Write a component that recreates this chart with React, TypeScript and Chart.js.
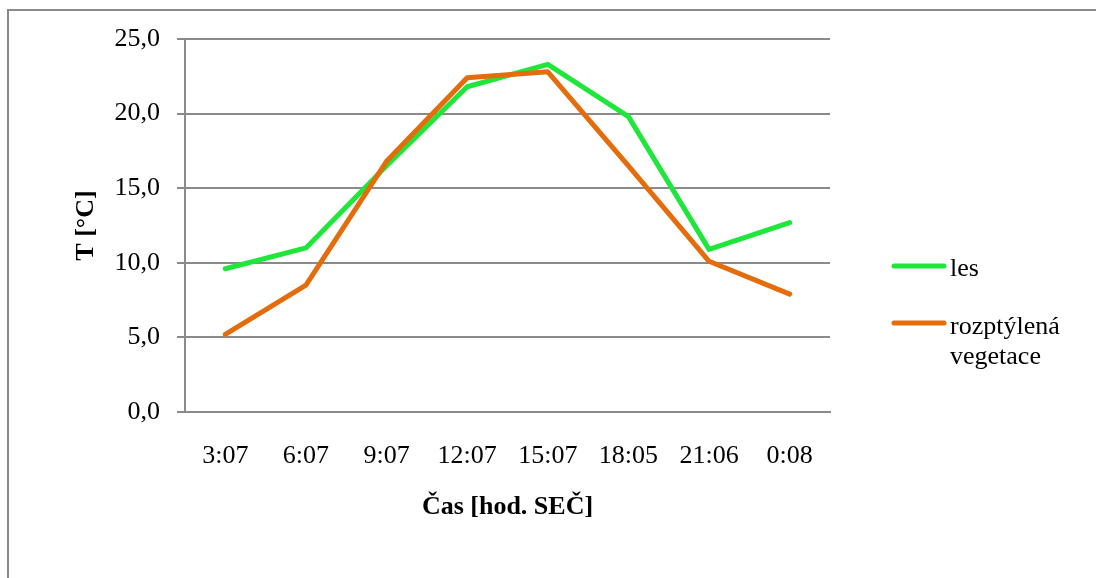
import React, { useEffect, useRef } from "react";
import { Chart, registerables } from "chart.js";

Chart.register(...registerables);

const categories = ["3:07", "6:07", "9:07", "12:07", "15:07", "18:05", "21:06", "0:08"];
const lesValues = [9.6, 11.0, 16.5, 21.8, 23.3, 19.8, 10.9, 12.7];
const vegetaceValues = [5.2, 8.5, 16.8, 22.4, 22.8, 16.5, 10.1, 7.9];
const seriesNames: (string | string[])[] = ["les", ["rozptýlená", "vegetace"]];
const seriesColors = ["#1ee63a", "#e46c0a"];
const yTitle = "T [°C]";
const xTitle = "Čas [hod. SEČ]";

const FONT = "'Liberation Serif', 'Times New Roman', serif";
const GRID = "#8a8a8a";

const legendPlugin = {
  id: "customLegend",
  afterDraw(chart: any) {
    const ctx = chart.ctx;
    const items = [
      { lineY: 255, textY: [265] },
      { lineY: 312, textY: [323, 353] },
    ];
    ctx.save();
    chart.data.datasets.forEach((ds: any, i: number) => {
      const it = items[i];
      ctx.strokeStyle = ds.borderColor;
      ctx.lineWidth = 5;
      ctx.lineCap = "round";
      ctx.beginPath();
      ctx.moveTo(885, it.lineY);
      ctx.lineTo(935, it.lineY);
      ctx.stroke();
      ctx.fillStyle = "#000";
      ctx.font = `26px ${FONT}`;
      ctx.textBaseline = "alphabetic";
      ctx.textAlign = "left";
      const name = seriesNames[i];
      const lines = Array.isArray(name) ? name : [name];
      lines.forEach((t, k) => ctx.fillText(t, 941, it.textY[k]));
    });
    ctx.restore();
  },
};

export default function App() {
  const ref = useRef<HTMLCanvasElement | null>(null);
  useEffect(() => {
    document.documentElement.style.overflow = "hidden";
    const canvas = ref.current;
    if (!canvas) return;
    const chart = new Chart(canvas, {
      type: "line",
      data: {
        labels: categories,
        datasets: [
          {
            label: "les",
            data: lesValues,
            borderColor: seriesColors[0],
            backgroundColor: seriesColors[0],
            borderWidth: 5,
            pointRadius: 0,
            tension: 0,
            borderCapStyle: "round",
            borderJoinStyle: "round",
            order: 2,
          },
          {
            label: "rozptýlená vegetace",
            data: vegetaceValues,
            borderColor: seriesColors[1],
            backgroundColor: seriesColors[1],
            borderWidth: 5,
            pointRadius: 0,
            tension: 0,
            borderCapStyle: "round",
            borderJoinStyle: "round",
            order: 1,
          },
        ],
      },
      options: {
        animation: false,
        responsive: false,
        maintainAspectRatio: false,
        layout: { padding: { left: 0, top: 28, right: 266, bottom: 0 } },
        plugins: {
          legend: { display: false },
          tooltip: { enabled: false },
          title: { display: false },
        },
        scales: {
          x: {
            type: "category",
            offset: true,
            grid: { display: false, drawTicks: false },
            border: { display: true, color: GRID, width: 2 },
            ticks: {
              font: { family: FONT, size: 26 },
              color: "#000",
              padding: 29,
              maxRotation: 0,
              autoSkip: false,
            },
            title: {
              display: true,
              text: xTitle,
              font: { family: FONT, size: 26, weight: "bold" },
              color: "#000",
              padding: { top: 0, bottom: 55 },
            },
            afterFit: (scale: any) => {
              scale.height = 166;
              scale.paddingLeft = 0;
              scale.paddingRight = 0;
            },
          },
          y: {
            min: 0,
            max: 25,
            grid: {
              color: GRID,
              lineWidth: 2,
              drawTicks: true,
              tickLength: 8,
              tickColor: GRID,
              tickWidth: 2,
            },
            border: { display: true, color: GRID, width: 2 },
            ticks: {
              stepSize: 5,
              font: { family: FONT, size: 26 },
              color: "#000",
              padding: 17,
              callback: (v: any) => Number(v).toFixed(1).replace(".", ","),
            },
            title: {
              display: true,
              text: yTitle,
              font: { family: FONT, size: 26, weight: "bold" },
              color: "#000",
              padding: { top: 62, bottom: 0 },
            },
            afterFit: (scale: any) => {
              scale.width = 176;
              scale.paddingTop = 0;
              scale.paddingBottom = 0;
            },
          },
        },
      },
      plugins: [legendPlugin],
    });
    return () => chart.destroy();
  }, []);

  return (
    <div
      style={{
        position: "absolute",
        left: 7,
        top: 9,
        width: 1087,
        height: 567,
        borderLeft: "2px solid #8a8a8a",
        borderTop: "2px solid #8a8a8a",
        background: "#fff",
        overflow: "hidden",
      }}
    >
      <canvas ref={ref} width={1087} height={567} style={{ display: "block" }} />
    </div>
  );
}
